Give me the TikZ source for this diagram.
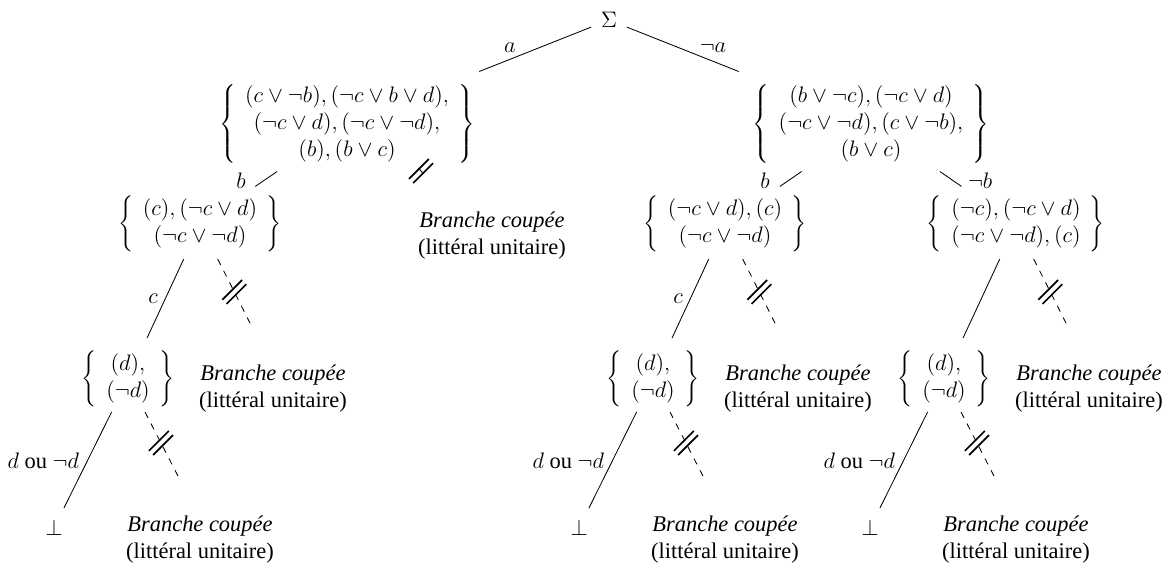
\documentclass[12pt,tikz,border=0pt]{standalone}
\usepackage{fontspec}
\setmainfont{Liberation Serif}
\usetikzlibrary{calc}
\newcommand{\cset}[1]{$\left\{\begin{array}{c}#1\end{array}\right\}$}
\tikzset{
  every node/.style={inner sep=0pt, outer sep=0pt},
  cutnote/.style={align=center},
  branchline/.style={line width=0.45pt},
  cutline/.style={line width=0.45pt, dash pattern=on 3.5pt off 3.5pt},
  cutmark/.pic={
    \draw[line width=0.9pt] (-7.8,12.0) -- (12.0,-7.8);
    \draw[line width=0.9pt] (-12.0,7.8) -- (7.8,-12.0);
  }
}
\begin{document}
\begin{tikzpicture}[x=0.5348pt,y=-0.5348pt]
\useasboundingbox (0,0) rectangle (1167,565);

% root and first level
\node (S) at (609,20) {$\Sigma$};
\node (LA) at (347,124) {\cset{(c\vee\neg b), (\neg c\vee b\vee d),\\ (\neg c\vee d), (\neg c\vee\neg d),\\ (b), (b\vee c)}};
\node (RA) at (871,124) {\cset{(b\vee\neg c), (\neg c\vee d)\\ (\neg c\vee\neg d), (c\vee\neg b),\\ (b\vee c)}};
\node[cutnote] (LBc) at (492,236) {\textit{Branche coupée}\\(littéral unitaire)};

\draw[branchline] ($(S)!0.068!(LA)$) -- ($(S)!0.495!(LA)$);
\draw[branchline] ($(S)!0.068!(RA)$) -- ($(S)!0.495!(RA)$);
\node (la) at (510,48) {$a$};
\node (lna) at (713,48) {$\neg a$};

% second level
\node (L1) at (200,224) {\cset{(c), (\neg c\vee d)\\ (\neg c\vee\neg d)}};
\node (R1) at (725,224) {\cset{(\neg c\vee d), (c)\\ (\neg c\vee\neg d)}};
\node (R2) at (1016,224) {\cset{(\neg c), (\neg c\vee d)\\ (\neg c\vee\neg d), (c)}};

\draw[branchline] ($(LA)!0.475!(L1)$) -- ($(LA)!0.624!(L1)$);
\draw[branchline] ($(RA)!0.475!(R1)$) -- ($(RA)!0.624!(R1)$);
\draw[branchline] ($(RA)!0.475!(R2)$) -- ($(RA)!0.624!(R2)$);
\node (lb1) at (241,181) {$b$};
\node (lb2) at (765,181) {$b$};
\node[anchor=west] (lnb) at (968,181) {$\neg b$};

\coordinate (LAm) at (421,171);
\pic at (LAm) {cutmark};
\draw[branchline] ($(LAm)+(-2.5,-3)$) -- ($(LAm)+(2.5,3)$);

% third level
\node (L2) at (128,379) {\cset{(d),\\ (\neg d)}};
\node (R1b) at (653,379) {\cset{(d),\\ (\neg d)}};
\node (R2b) at (944,379) {\cset{(d),\\ (\neg d)}};
\node[cutnote] (LB2) at (273,389) {\textit{Branche coupée}\\(littéral unitaire)};
\node[cutnote] (RB1) at (798,389) {\textit{Branche coupée}\\(littéral unitaire)};
\node[cutnote] (RB2) at (1089,389) {\textit{Branche coupée}\\(littéral unitaire)};

\coordinate (L1d) at (252,327);
\coordinate (R1d) at (777,327);
\coordinate (R2d) at (1068,327);

\draw[branchline] ($(L1)!0.226!(L2)$) -- ($(L1)!0.735!(L2)$);
\draw[branchline] ($(R1)!0.226!(R1b)$) -- ($(R1)!0.735!(R1b)$);
\draw[branchline] ($(R2)!0.226!(R2b)$) -- ($(R2)!0.735!(R2b)$);
\node (lc1) at (153,299) {$c$};
\node (lc2) at (678,299) {$c$};

\draw[cutline] ($(L1)!0.34!(L1d)$) -- (L1d);
\draw[cutline] ($(R1)!0.34!(R1d)$) -- (R1d);
\draw[cutline] ($(R2)!0.34!(R2d)$) -- (R2d);
\pic at ($(L1)!0.66!(L1d)$) {cutmark};
\pic at ($(R1)!0.66!(R1d)$) {cutmark};
\pic at ($(R2)!0.66!(R2d)$) {cutmark};

% fourth level
\node (LF) at (54,528) {$\bot$};
\node (R1F) at (579,528) {$\bot$};
\node (R2F) at (870,528) {$\bot$};
\node[cutnote] (LB3) at (200,540) {\textit{Branche coupée}\\(littéral unitaire)};
\node[cutnote] (RB13) at (725,540) {\textit{Branche coupée}\\(littéral unitaire)};
\node[cutnote] (RB23) at (1016,540) {\textit{Branche coupée}\\(littéral unitaire)};

\coordinate (L2d) at (179,478);
\coordinate (R1bd) at (704,478);
\coordinate (R2bd) at (995,478);

\draw[branchline] ($(L2)!0.22!(LF)$) -- ($(L2)!0.866!(LF)$);
\draw[branchline] ($(R1b)!0.22!(R1F)$) -- ($(R1b)!0.866!(R1F)$);
\draw[branchline] ($(R2b)!0.22!(R2F)$) -- ($(R2b)!0.866!(R2F)$);
\node[anchor=east] (ld1) at (79,461) {$d$ ou $\neg d$};
\node[anchor=east] (ld2) at (604,461) {$d$ ou $\neg d$};
\node[anchor=east] (ld3) at (895,461) {$d$ ou $\neg d$};

\draw[cutline] ($(L2)!0.333!(L2d)$) -- (L2d);
\draw[cutline] ($(R1b)!0.333!(R1bd)$) -- (R1bd);
\draw[cutline] ($(R2b)!0.333!(R2bd)$) -- (R2bd);
\pic at ($(L2)!0.646!(L2d)$) {cutmark};
\pic at ($(R1b)!0.646!(R1bd)$) {cutmark};
\pic at ($(R2b)!0.646!(R2bd)$) {cutmark};
\end{tikzpicture}
\end{document}
